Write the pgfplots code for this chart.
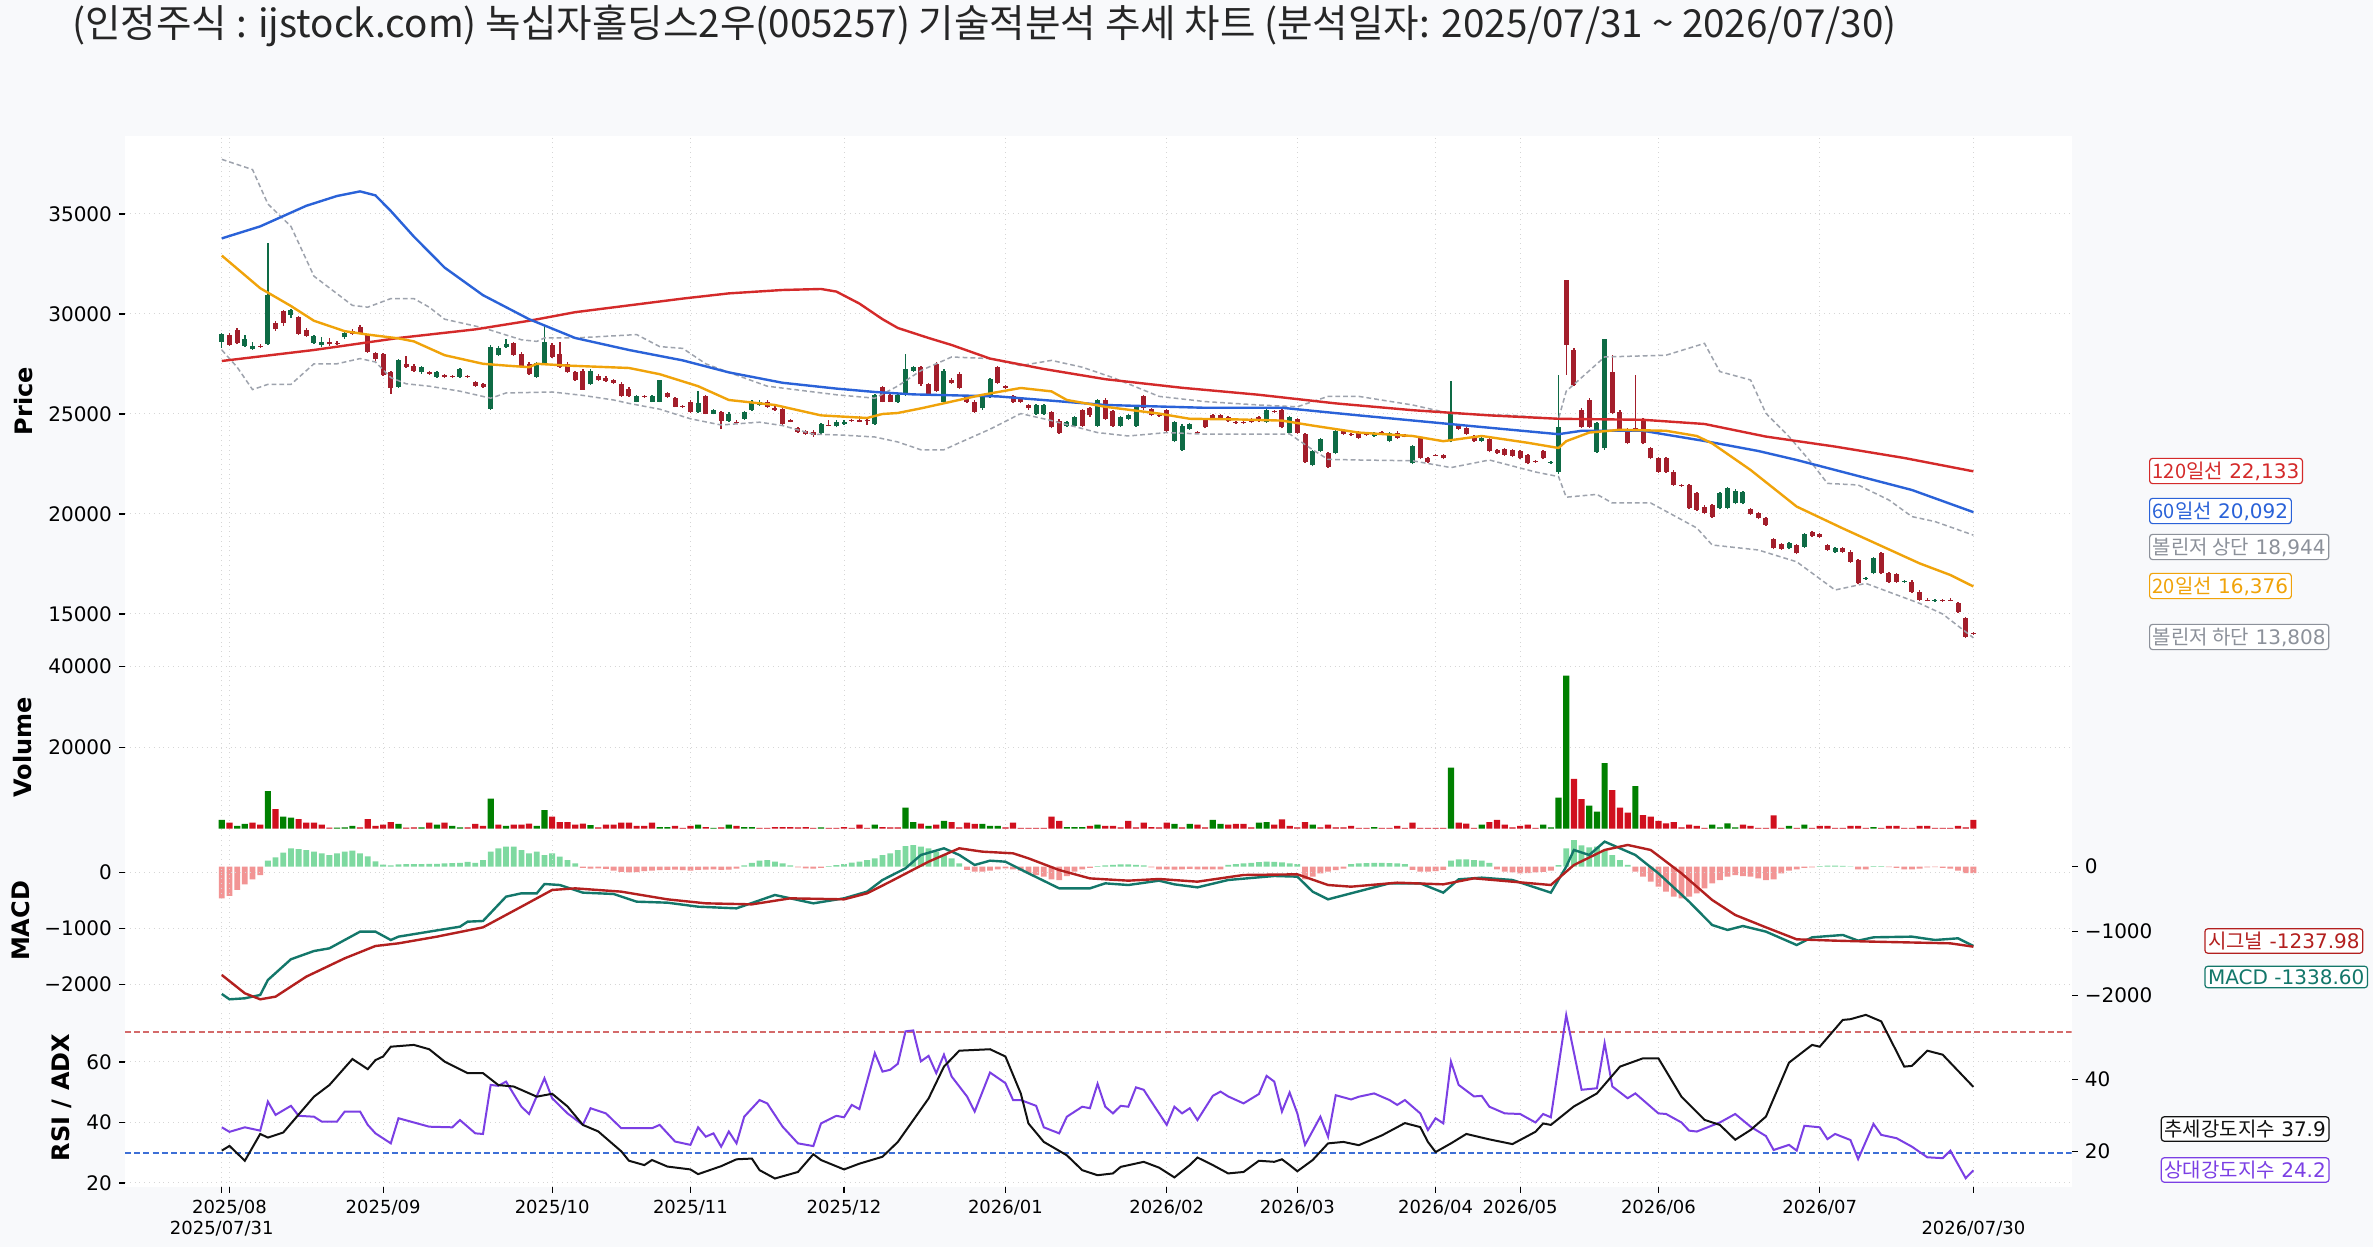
\documentclass[border=0pt]{standalone}
\usepackage{fontspec}
\setmainfont{DejaVu Sans}
\newfontfamily\kr{Noto Sans CJK KR}
\usepackage{pgfplots}
\usepackage{pgfplotstable}
\pgfplotsset{compat=1.18}

\definecolor{bgc}{HTML}{F8F9FB}
\definecolor{cup}{HTML}{0E6B45}
\definecolor{cdn}{HTML}{A31E2B}
\definecolor{vup}{HTML}{008000}
\definecolor{vdn}{HTML}{D0101E}
\definecolor{ma20}{HTML}{F0A30A}
\definecolor{ma60}{HTML}{2A62D8}
\definecolor{ma120}{HTML}{D42A2A}
\definecolor{bbc}{HTML}{9EA3AD}
\definecolor{bbt}{HTML}{8C919A}
\definecolor{macdc}{HTML}{13776A}
\definecolor{sigc}{HTML}{B3201F}
\definecolor{hup}{HTML}{7ED9A0}
\definecolor{hdn}{HTML}{F29494}
\definecolor{rsic}{HTML}{7B3FE4}
\definecolor{adxc}{HTML}{111111}
\definecolor{gridc}{HTML}{D6D6D6}
\definecolor{l70}{HTML}{D46A6A}
\definecolor{l30}{HTML}{3D6FD6}

\pgfplotstableread{
i o h l c v g
0 28620 29050 28300 29000 2150 1
1 28950 29050 28400 28450 1490 0
2 29200 29300 28480 28530 670 1
3 28400 28950 28350 28750 1160 1
4 28230 28600 28200 28420 1490 0
5 28400 28500 28300 28350 1000 0
6 28500 33570 28450 30950 9300 1
7 29570 29650 29150 29230 4850 0
8 30150 30200 29400 29570 2960 1
9 29970 30250 29800 30200 2710 1
10 29830 29900 28950 29000 2380 0
11 29200 29300 28850 28900 1490 0
12 28570 28950 28500 28900 1490 0
13 28450 28850 28350 28600 1000 0
14 28600 28800 28400 28480 250 0
15 28550 28650 28450 28500 250 1
16 28830 29100 28750 29030 300 1
17 29170 29250 28950 29000 670 1
18 29370 29450 28980 29030 300 0
19 28950 29000 28050 28120 2380 0
20 28030 28100 27650 27730 670 0
21 28000 28050 26900 26950 1000 0
22 27090 27150 26000 26290 1650 0
23 26370 27750 26300 27700 1160 1
24 27500 27900 27300 27370 250 0
25 27420 27500 27100 27160 300 0
26 27080 27400 27000 27340 300 1
27 27080 27150 26950 27000 1490 0
28 26860 27150 26800 27080 1000 1
29 26940 27000 26800 26860 1490 0
30 26900 26950 26800 26860 670 1
31 26860 27300 26800 27250 300 1
32 26900 26950 26800 26850 300 0
33 26600 26650 26350 26390 1160 0
34 26480 26550 26300 26340 670 0
35 25270 28450 25200 28370 7410 1
36 27940 28400 27900 28320 1000 0
37 28330 28750 28300 28500 670 1
38 28540 28600 27900 27940 1000 0
39 28020 28100 27300 27340 1000 0
40 27510 27600 26950 26990 1240 0
41 26860 27600 26800 27540 670 1
42 27540 29400 27500 28620 4600 1
43 28450 28550 27800 27850 2960 0
44 28020 28620 27300 27340 1650 0
45 27510 27600 27050 27080 1650 0
46 27080 27150 26650 26680 1000 0
47 27170 27250 26200 26220 1240 0
48 26480 27250 26450 27170 910 1
49 26910 27000 26650 26680 300 0
50 26820 26900 26600 26650 1000 0
51 26680 26750 26500 26560 1000 0
52 26510 26600 25850 25880 1490 0
53 26270 26350 25850 25880 1490 0
54 25620 25950 25580 25880 670 0
55 25900 25950 25800 25850 670 0
56 25620 25950 25580 25880 1490 0
57 25620 26720 25580 26680 400 1
58 26030 26100 25800 25860 400 1
59 25790 25850 25330 25360 670 0
60 25400 25450 25300 25360 200 0
61 25620 25700 25050 25100 670 0
62 25100 26140 25050 25530 1000 1
63 25880 25950 24980 25020 400 0
64 25020 25250 24980 25190 200 1
65 25100 25150 24240 24670 300 0
66 24670 25100 24620 25020 1000 1
67 24620 24700 24550 24580 670 0
68 24760 25150 24700 25100 400 1
69 25190 25700 25150 25620 400 1
70 25450 25700 25400 25620 200 0
71 25620 25700 25300 25360 200 0
72 25310 25380 25150 25190 400 0
73 25240 25300 24450 24500 400 0
74 24700 24760 24580 24620 400 0
75 24280 24350 24050 24110 300 0
76 24160 24220 23950 23990 400 0
77 24110 24180 23850 23940 200 0
78 24070 24550 24000 24500 300 1
79 24450 24700 24380 24400 200 0
80 24380 24700 24330 24620 200 0
81 24500 24700 24450 24620 400 0
82 24700 24750 24600 24650 200 0
83 24720 24900 24580 24620 1000 0
84 24680 24750 24450 24630 200 0
85 24500 26000 24450 25960 1000 1
86 26340 26400 25580 25620 400 0
87 25960 26050 25580 25620 300 0
88 25620 26000 25550 25960 300 0
89 25960 28020 25900 27250 5180 1
90 27160 27400 27100 27340 1650 1
91 27340 27400 26400 26480 1240 0
92 26480 26550 25900 25960 670 1
93 27510 27600 26100 26140 1000 0
94 25620 27250 25550 27170 1900 1
95 26700 26800 26500 26560 1650 0
96 27000 27100 26250 26310 300 0
97 25880 25950 25550 25620 1490 0
98 25620 25700 25050 25100 1160 0
99 25280 25950 25200 25880 1160 1
100 25880 26800 25800 26740 670 1
101 27340 27400 26500 26560 670 1
102 26390 26450 26250 26310 300 0
103 25880 25950 25550 25620 1490 0
104 25790 25850 25550 25620 200 0
105 25450 25500 25200 25280 200 0
106 25020 25500 24950 25450 200 0
107 25020 25500 24950 25450 200 0
108 25100 25150 24280 24330 2960 0
109 24670 24750 24000 24070 1900 0
110 24420 24650 24350 24620 400 1
111 24420 24900 24350 24840 400 1
112 25190 25250 24350 24420 400 1
113 25280 25350 24850 24930 670 0
114 24420 25750 24350 25700 1000 1
115 25700 25780 24700 24760 670 0
116 25140 25200 24350 24420 670 0
117 24420 24900 24350 24840 300 0
118 24760 25000 24700 24930 1900 0
119 24420 25400 24350 25360 300 0
120 25880 25950 25200 25280 1490 0
121 25240 25300 24880 24930 400 0
122 24950 25000 24850 24900 300 0
123 25190 25250 24100 24160 1490 0
124 23640 24650 23580 24590 1160 1
125 23210 24480 23150 24420 300 0
126 24240 24550 24200 24500 1160 1
127 24100 24150 24000 24050 1000 0
128 24760 24820 24280 24330 300 0
129 24930 25000 24700 24760 2150 1
130 24930 25000 24700 24760 1160 1
131 24840 24900 24620 24670 1000 0
132 24600 24650 24500 24560 1160 0
133 24600 24650 24500 24560 1160 0
134 24760 24800 24550 24590 300 0
135 24840 24900 24620 24670 1490 1
136 24590 25250 24550 25190 1650 1
137 25130 25200 25050 25090 1000 0
138 25190 25250 24280 24330 2300 0
139 24070 24900 24000 24840 670 0
140 24760 24820 24020 24070 300 0
141 23990 24050 22550 22610 1650 0
142 22440 23200 22380 23130 1000 1
143 23130 23800 23080 23730 300 0
144 23040 23100 22300 22350 1000 0
145 23040 24220 22980 24160 300 0
146 24160 24220 23940 23990 300 0
147 24000 24050 23900 23960 670 0
148 24070 24130 23760 23810 200 0
149 24000 24050 23900 23960 200 0
150 23900 24120 23850 24070 400 1
151 24100 24150 24000 24050 200 0
152 23640 24120 23580 24070 200 0
153 24070 24130 23760 23810 670 0
154 23920 23980 23830 23880 200 0
155 22530 23450 22480 23390 1490 0
156 23810 23870 22730 22780 200 0
157 22780 22850 22560 22610 200 0
158 22970 23020 22880 22930 200 0
159 22950 23000 22730 22780 200 0
160 23640 26650 23580 25100 15060 1
161 24420 24480 24190 24240 1490 0
162 24280 24340 23940 23990 1240 0
163 23900 23960 23590 23640 200 0
164 23640 23870 23590 23810 1000 1
165 23760 23820 23080 23130 1650 0
166 23210 23270 22990 23040 2150 0
167 23250 23310 22900 22950 1000 0
168 23180 23240 22850 22900 300 0
169 23130 23190 22730 22780 670 0
170 22950 23010 22480 22530 1000 0
171 22650 22700 22560 22610 200 0
172 23130 23190 22730 22780 1000 1
173 22560 22650 22500 22600 300 1
174 22120 26950 22000 24370 7660 1
175 31700 31720 26950 28450 37780 1
176 28200 28300 26400 26450 12270 0
177 25200 25300 24320 24370 7330 0
178 25700 25800 24320 24370 5680 1
179 23120 24600 23050 24530 4200 1
180 23280 28730 23200 28730 16170 1
181 27120 27950 24980 25030 9550 0
182 25120 25200 24150 24200 5180 0
183 24200 24280 23480 23530 3950 0
184 24300 26950 24120 24200 10540 1
185 24700 24780 23480 23530 3370 0
186 23280 23350 22730 22780 2960 0
187 22780 22850 22070 22120 1900 0
188 22780 22850 22070 22120 1320 0
189 22120 22200 21400 21450 1650 0
190 21450 21500 21350 21400 300 0
191 21450 21500 20230 20280 1000 0
192 21030 21100 20150 20200 670 0
193 20370 20450 19980 20030 200 0
194 20450 20500 19820 19870 1000 1
195 20280 21100 20230 21030 300 1
196 20280 21350 20230 21280 1320 1
197 20530 21250 20480 21170 300 1
198 20530 21150 20480 21100 1000 0
199 20230 20300 19950 20000 670 0
200 20030 20100 19730 19780 200 0
201 19780 19850 19400 19450 200 0
202 18730 18800 18230 18280 3290 0
203 18500 18570 18200 18250 200 0
204 18280 18600 18230 18530 670 1
205 18450 18520 17980 18030 200 0
206 18370 19070 18320 19000 1000 1
207 19100 19170 18850 18900 200 0
208 19000 19070 18780 18830 670 0
209 18450 18520 18150 18200 670 0
210 18120 18350 18070 18280 200 0
211 18280 18350 18070 18120 200 0
212 18120 18190 17560 17610 670 0
213 17700 17770 16480 16530 670 0
214 16750 16850 16700 16800 200 0
215 17030 17850 16980 17780 400 1
216 18030 18100 16980 17030 200 0
217 17030 17100 16570 16620 670 0
218 17000 17070 16570 16620 670 0
219 16600 16690 16550 16640 200 0
220 16620 16690 16070 16120 200 0
221 16120 16190 15650 15700 670 0
222 15720 15790 15630 15680 670 0
223 15660 15750 15610 15700 200 0
224 15690 15760 15600 15650 200 0
225 15720 15790 15630 15680 200 0
226 15530 15600 15070 15120 670 0
227 14780 14850 13810 13860 300 0
228 14050 14120 13950 14000 2150 0
}\candles

\pgfplotstableread{
i h
0 -490
1 -454
2 -361
3 -273
4 -196
5 -129
6 93
7 145
8 217
9 284
10 274
11 258
12 233
13 207
14 181
15 207
16 233
17 248
18 207
19 160
20 83
21 31
22 20
23 35
24 40
25 40
26 40
27 45
28 45
29 50
30 55
31 60
32 75
33 60
34 100
35 233
36 284
37 310
38 310
39 258
40 207
41 233
42 181
43 207
44 155
45 103
46 52
47 -20
48 -30
49 -25
50 -35
51 -60
52 -80
53 -90
54 -85
55 -70
56 -60
57 -55
58 -50
59 -45
60 -55
61 -60
62 -50
63 -45
64 -40
65 -50
66 -45
67 -30
68 20
69 60
70 95
71 100
72 80
73 50
74 20
75 -10
76 -25
77 -30
78 -20
79 10
80 26
81 41
82 62
83 78
84 103
85 129
86 181
87 207
88 258
89 320
90 336
91 310
92 284
93 233
94 181
95 129
96 52
97 -50
98 -77
99 -77
100 -60
101 -40
102 -26
103 -41
104 -62
105 -103
106 -129
107 -155
108 -196
109 -207
110 -145
111 -77
112 -41
113 -20
114 10
115 20
116 30
117 36
118 36
119 30
120 20
121 -10
122 -40
123 -40
124 -45
125 -40
126 -35
127 -41
128 -41
129 -41
130 -41
131 30
132 40
133 50
134 60
135 70
136 78
137 75
138 65
139 50
140 40
141 -196
142 -155
143 -103
144 -77
145 -52
146 -30
147 40
148 50
149 55
150 60
151 60
152 55
153 50
154 40
155 -50
156 -77
157 -77
158 -70
159 -50
160 93
161 113
162 113
163 100
164 95
165 60
166 -40
167 -77
168 -90
169 -103
170 -100
171 -90
172 -80
173 -60
174 26
175 284
176 413
177 330
178 300
179 310
180 250
181 180
182 100
183 30
184 -77
185 -155
186 -232
187 -310
188 -388
189 -465
190 -491
191 -465
192 -413
193 -336
194 -258
195 -207
196 -155
197 -129
198 -145
199 -155
200 -181
201 -207
202 -196
203 -103
204 -60
205 -40
206 -20
207 -10
208 10
209 15
210 15
211 12
212 5
213 -40
214 -40
215 10
216 10
217 -5
218 -20
219 -40
220 -40
221 -30
222 -10
223 -5
224 -20
225 -30
226 -60
227 -100
228 -100
}\hist

\pgfplotsset{
  base/.style={
    scale only axis, width=973.35pt, xmin=-12.6, xmax=240.8,
    anchor=south west,
    axis line style={draw=none},
    scaled y ticks=false, scaled x ticks=false,
    tick align=outside, major tick length=3pt,
    tick style={black, line width=0.6pt},
    yticklabel style={font=\fontsize{10}{12}\selectfont},
    xticklabel style={font=\fontsize{9}{11}\selectfont},
    major grid style={gridc, dotted, line width=0.5pt},
    xtick={0,1,21,43,61,81,102,123,140,158,169,187,208,228},
  },
  leftax/.style={base, xmajorgrids, ymajorgrids, ytick pos=left},
  upper/.style={leftax, xmajorticks=false, xticklabels={}},
  rightax/.style={base, hide x axis, ytick pos=right, yticklabel pos=right},
}

\begin{document}
\begin{tikzpicture}
\useasboundingbox (0,0) rectangle (1186.5pt,623.5pt);
\fill[bgc] (0,0) rectangle (1186.5pt,623.5pt);
\fill[white] (62.5pt,30pt) rectangle (1035.85pt,555.5pt);

% ---------------- Price ----------------
\begin{axis}[upper, at={(62.5pt,297.5pt)}, height=258pt, ymin=13100, ymax=38900,
  ytick={15000,20000,25000,30000,35000}, yticklabels={15000,20000,25000,30000,35000}]
% wicks
\addplot[draw=none, mark=none, forget plot, error bars/.cd, y dir=plus, y explicit, error mark=none,
  error bar style={draw=cup, line width=0.7pt, solid}]
  table[x=i, y expr={\thisrow{c}>=\thisrow{o} ? \thisrow{l} : nan}, y error plus expr={\thisrow{h}-\thisrow{l}}] {\candles};
\addplot[draw=none, mark=none, forget plot, error bars/.cd, y dir=plus, y explicit, error mark=none,
  error bar style={draw=cdn, line width=0.7pt, solid}]
  table[x=i, y expr={\thisrow{c}<\thisrow{o} ? \thisrow{l} : nan}, y error plus expr={\thisrow{h}-\thisrow{l}}] {\candles};
% bodies
\addplot[draw=none, mark=none, forget plot, error bars/.cd, y dir=plus, y explicit, error mark=none,
  error bar style={draw=cup, line width=2.5pt, solid}]
  table[x=i, y expr={\thisrow{c}>=\thisrow{o} ? \thisrow{o} : nan}, y error plus expr={max(\thisrow{c}-\thisrow{o},40)}] {\candles};
\addplot[draw=none, mark=none, forget plot, error bars/.cd, y dir=plus, y explicit, error mark=none,
  error bar style={draw=cdn, line width=2.5pt, solid}]
  table[x=i, y expr={\thisrow{c}<\thisrow{o} ? \thisrow{c} : nan}, y error plus expr={max(\thisrow{o}-\thisrow{c},40)}] {\candles};
% Bollinger
\addplot[bbc, line width=0.75pt, dash pattern=on 2.4pt off 1.5pt] coordinates {(0,37730)(4,37220)(6,35500)(9,34380)(12,31890)(17,30430)(19,30340)(22,30770)(25,30770)(27,30340)(29,29740)(34,29310)(39,28710)(41,28630)(42,28800)(46,28800)(54,28970)(57,28370)(60,28280)(63,27510)(66,27080)(71,26390)(80,25960)(85,25790)(88,26400)(91,27170)(95,27850)(100,27770)(104,27420)(108,27680)(112,27340)(116,26820)(122,25880)(128,25620)(135,25450)(140,25360)(144,25880)(148,25880)(155,25450)(160,25020)(168,24930)(174,24760)(175,26140)(177,26820)(180,27850)(188,27940)(193,28530)(195,27120)(199,26700)(201,25030)(204,23870)(207,22530)(209,21530)(213,21450)(217,20700)(220,19870)(223,19620)(228,18944)};
\addplot[bbc, line width=0.75pt, dash pattern=on 2.4pt off 1.5pt] coordinates {(0,28200)(2,27340)(4,26220)(6,26480)(9,26480)(12,27510)(15,27510)(18,27770)(20,27600)(22,26820)(24,26510)(27,26390)(31,26140)(35,25790)(37,26050)(43,26100)(47,25930)(51,25700)(53,25530)(57,25240)(61,24760)(65,24450)(70,24590)(73,24420)(77,23990)(81,23940)(85,23850)(88,23600)(91,23210)(94,23210)(96,23560)(100,24240)(104,25020)(108,24670)(114,24070)(118,23900)(123,24070)(128,23990)(135,23990)(139,24000)(142,23210)(144,22730)(148,22700)(155,22660)(160,22320)(165,22700)(171,22100)(174,21870)(175,20840)(179,20980)(181,20550)(186,20550)(192,19300)(194,18450)(200,18200)(205,17610)(210,16200)(214,16530)(221,15530)(224,15000)(228,13808)};
% MA120
\addplot[ma120, line width=1.2pt] coordinates {(0,27650)(12,28200)(23,28800)(33,29230)(40,29660)(46,30090)(53,30430)(60,30770)(66,31030)(73,31200)(78,31250)(80,31120)(83,30520)(86,29740)(88,29300)(92,28800)(95,28450)(100,27770)(107,27250)(115,26740)(125,26310)(135,25960)(145,25530)(155,25190)(165,24930)(174,24760)(185,24710)(193,24500)(201,23870)(210,23370)(219,22800)(228,22133)};
% MA60
\addplot[ma60, line width=1.2pt] coordinates {(0,33780)(5,34380)(11,35410)(15,35900)(18,36130)(20,35930)(22,35150)(25,33870)(29,32320)(34,30940)(40,29740)(46,28800)(53,28200)(60,27680)(66,27080)(73,26560)(80,26270)(85,26100)(90,25980)(101,25880)(115,25450)(128,25310)(138,25310)(148,24930)(162,24420)(174,23990)(177,24160)(185,24160)(193,23650)(200,23150)(205,22700)(212,22000)(220,21200)(228,20092)};
% MA20
\addplot[ma20, line width=1.2pt] coordinates {(0,32920)(5,31290)(9,30400)(12,29660)(16,29140)(19,28970)(23,28780)(25,28630)(29,27940)(34,27510)(37,27420)(40,27340)(41,27510)(45,27420)(53,27300)(57,26990)(62,26390)(66,25700)(72,25450)(78,24930)(84,24800)(86,25000)(88,25050)(91,25280)(95,25620)(99,25960)(104,26300)(108,26130)(110,25700)(115,25360)(122,25020)(126,24760)(132,24730)(138,24670)(142,24420)(148,24070)(155,23900)(159,23640)(164,23900)(170,23560)(174,23300)(175,23640)(178,24070)(182,24210)(188,24160)(192,23900)(194,23530)(199,22200)(205,20370)(211,19280)(221,17530)(225,16950)(228,16376)};
\end{axis}

% ---------------- Volume ----------------
\begin{axis}[upper, at={(62.5pt,208.5pt)}, height=87pt, ymin=-321, ymax=42642,
  ytick={20000,40000}, yticklabels={20000,40000}]
\addplot[ybar, bar width=3.1pt, bar shift=0pt, fill=vup, draw=none] table[x=i, y expr={\thisrow{g}>0 ? \thisrow{v} : nan}] {\candles};
\addplot[ybar, bar width=3.1pt, bar shift=0pt, fill=vdn, draw=none] table[x=i, y expr={\thisrow{g}<1 ? \thisrow{v} : nan}] {\candles};
\end{axis}

% ---------------- MACD ----------------
\begin{axis}[rightax, at={(62.5pt,121.5pt)}, height=85pt, ymin=-2129, ymax=507,
  ytick={-2000,-1000,0}, yticklabels={−2000,−1000,0}]
\addplot[ybar, bar width=2.9pt, bar shift=0pt, fill=hup, draw=none] table[x=i, y expr={\thisrow{h}>=0 ? \thisrow{h} : nan}] {\hist};
\addplot[ybar, bar width=2.9pt, bar shift=0pt, fill=hdn, draw=none] table[x=i, y expr={\thisrow{h}<0 ? \thisrow{h} : nan}] {\hist};
\end{axis}
\begin{axis}[upper, at={(62.5pt,121.5pt)}, height=85pt, ymin=-2357, ymax=695,
  ytick={-2000,-1000,0}, yticklabels={−2000,−1000,0}]
\addplot[macdc, line width=1.2pt] coordinates {(0,-2177)(1,-2273)(3,-2255)(5,-2195)(6,-1926)(9,-1554)(12,-1406)(14,-1358)(18,-1058)(20,-1058)(22,-1208)(23,-1148)(27,-1058)(31,-969)(32,-879)(34,-867)(37,-430)(39,-370)(41,-370)(42,-203)(44,-221)(47,-358)(51,-382)(54,-520)(58,-538)(62,-610)(67,-640)(72,-400)(77,-550)(81,-460)(84,-340)(86,-131)(89,79)(91,318)(94,438)(96,318)(98,139)(100,216)(102,198)(105,-11)(109,-281)(113,-281)(115,-191)(118,-221)(122,-143)(124,-209)(127,-263)(131,-131)(137,-59)(140,-71)(142,-341)(144,-478)(147,-370)(152,-191)(156,-191)(159,-358)(161,-119)(164,-89)(168,-131)(173,-358)(175,108)(176,408)(178,318)(180,558)(184,318)(187,-11)(191,-520)(194,-939)(196,-1028)(198,-957)(201,-1058)(205,-1298)(207,-1160)(211,-1118)(213,-1220)(215,-1160)(220,-1148)(223,-1208)(226,-1178)(228,-1316)};
\addplot[sigc, line width=1.2pt] coordinates {(0,-1836)(3,-2165)(5,-2273)(7,-2225)(11,-1866)(16,-1537)(20,-1316)(23,-1268)(28,-1148)(34,-981)(39,-610)(43,-310)(46,-281)(52,-340)(58,-478)(63,-550)(69,-568)(74,-460)(81,-478)(84,-370)(87,-161)(92,198)(96,438)(99,378)(103,348)(105,258)(109,48)(113,-102)(118,-143)(122,-113)(127,-161)(133,-41)(140,-29)(144,-221)(147,-251)(153,-179)(159,-209)(163,-101)(168,-161)(173,-221)(176,138)(180,408)(183,498)(186,408)(190,-11)(194,-490)(197,-759)(201,-981)(205,-1196)(210,-1220)(215,-1238)(225,-1268)(228,-1328)};
\end{axis}

% ---------------- RSI / ADX ----------------
\begin{axis}[leftax, at={(62.5pt,30pt)}, height=88.5pt, ymin=18.68, ymax=77.16,
  ytick={20,40,60}, yticklabels={20,40,60},
  xtick={1,21,43,61,81,102,123,140,158,169,187,208},
  xticklabels={2025/08,2025/09,2025/10,2025/11,2025/12,2026/01,2026/02,2026/03,2026/04,2026/05,2026/06,2026/07},
  extra x ticks={0,228}, extra x tick labels={2025/07/31,2026/07/30},
  extra x tick style={tick label style={yshift=-10.5pt}}, xtick pos=bottom]
\addplot[l70, line width=0.9pt, dash pattern=on 3pt off 1.6pt] coordinates {(-12.6,70)(240.8,70)};
\addplot[l30, line width=0.9pt, dash pattern=on 3pt off 1.6pt] coordinates {(-12.6,30)(240.8,30)};
\addplot[rsic, line width=1pt] coordinates {(0,38.4)(1,36.9)(3,38.4)(5,37.3)(6,46.9)(7,42.5)(9,45.5)(10,42.2)(12,41.9)(13,40.3)(15,40.3)(16,43.6)(18,43.6)(19,39.2)(20,36.4)(22,33.1)(23,41.4)(25,40.0)(27,38.6)(30,38.4)(31,40.8)(33,36.4)(34,36.2)(35,52.4)(36,52.1)(37,53.5)(39,45.2)(40,42.8)(42,54.6)(43,48.0)(45,43.0)(47,39.2)(48,44.7)(50,43.0)(52,38.1)(56,38.1)(57,39.2)(59,33.7)(61,32.6)(62,38.4)(63,35.3)(64,36.4)(65,32.0)(66,37.0)(67,33.1)(68,41.9)(70,47.4)(71,46.3)(73,38.6)(75,33.1)(77,32.2)(78,39.7)(80,42.2)(81,41.7)(82,45.8)(83,44.4)(85,62.9)(86,56.8)(87,57.4)(88,59.4)(89,70.1)(90,70.4)(91,60.2)(92,62.0)(93,56.3)(94,62.4)(95,55.2)(97,48.6)(98,43.6)(100,56.5)(102,53.0)(103,47.4)(104,47.4)(106,45.5)(107,38.4)(109,36.4)(110,41.9)(112,45.2)(113,44.7)(114,52.8)(115,45.2)(116,43.0)(117,45.5)(118,45.2)(119,51.6)(120,50.8)(121,46.9)(123,39.2)(124,45.2)(125,43.0)(126,44.7)(127,40.8)(129,48.8)(130,50.2)(131,48.6)(133,46.3)(135,49.4)(136,55.4)(137,53.5)(138,43.6)(139,49.9)(140,43.0)(141,32.6)(143,41.9)(144,35.3)(145,49.0)(147,47.6)(148,48.5)(150,49.6)(152,47.4)(153,45.8)(154,47.4)(156,43.0)(157,37.5)(158,41.4)(159,39.7)(160,60.1)(161,52.4)(163,48.6)(164,48.8)(165,45.2)(167,43.0)(169,42.8)(171,40.0)(172,42.8)(173,41.7)(175,75.5)(177,50.8)(179,51.3)(180,66.2)(181,51.9)(183,48.0)(184,49.6)(186,45.2)(187,43.0)(188,42.8)(190,40.0)(191,37.3)(192,37.0)(195,40.0)(197,42.8)(199,38.6)(201,35.5)(202,30.9)(204,32.6)(205,30.7)(206,38.9)(208,38.4)(209,34.5)(210,36.2)(212,34.2)(213,27.9)(215,39.5)(216,35.9)(218,34.8)(220,32.0)(222,28.5)(224,28.2)(225,30.7)(227,21.6)(228,24.2)};
\end{axis}
\begin{axis}[rightax, at={(62.5pt,30pt)}, height=88.5pt, ymin=10.25, ymax=59.14,
  ytick={20,40}, yticklabels={20,40}]
\addplot[adxc, line width=1pt] coordinates {(0,20.3)(1,21.6)(3,17.5)(5,24.9)(6,23.9)(8,25.3)(12,35.2)(14,38.4)(17,45.6)(19,42.8)(20,45.3)(21,46.3)(22,49.0)(25,49.5)(27,48.3)(29,44.9)(32,41.7)(34,41.7)(36,38.4)(38,38.0)(41,35.2)(43,36.0)(45,32.5)(47,27.4)(49,25.6)(52,20.1)(53,17.5)(55,16.3)(56,17.7)(58,15.9)(61,15.1)(62,13.8)(65,16.0)(67,17.9)(69,18.1)(70,14.9)(72,12.6)(75,14.4)(77,19.3)(78,17.7)(81,15.1)(83,16.7)(86,18.6)(88,22.7)(90,28.7)(92,34.7)(94,43.5)(96,47.9)(100,48.3)(102,46.3)(104,36.1)(105,27.8)(107,22.7)(110,19.0)(112,14.9)(114,13.5)(116,14.0)(117,15.8)(120,17.2)(122,15.6)(124,12.9)(126,16.3)(127,18.4)(129,16.3)(131,14.0)(133,14.4)(135,17.5)(137,17.2)(138,17.9)(139,16.3)(140,14.6)(142,17.7)(144,22.3)(146,22.7)(148,21.8)(151,24.5)(154,27.9)(156,26.8)(157,22.7)(158,19.9)(160,22.3)(162,24.9)(165,23.4)(168,22.1)(171,25.5)(172,27.8)(173,27.4)(176,32.5)(179,36.1)(182,43.5)(185,45.8)(187,45.8)(190,35.2)(193,28.8)(195,27.4)(197,23.3)(199,26.0)(201,29.7)(204,44.6)(207,49.5)(208,49.0)(211,56.4)(212,56.6)(214,57.8)(216,56.0)(219,43.5)(220,43.7)(222,47.9)(224,46.8)(228,37.9)};
\end{axis}

% ---------------- Texts ----------------
\node[anchor=west, inner sep=0pt, font=\kr\fontsize{19.3}{22}\selectfont, text=black!85] at (36pt,610.5pt)
  {(인정주식 : ijstock.com) 녹십자홀딩스2우(005257) 기술적분석 추세 차트 (분석일자: 2025/07/31 \textasciitilde{} 2026/07/30)};
\node[rotate=90, font=\bfseries\fontsize{12}{14}\selectfont] at (12pt,423pt) {Price};
\node[rotate=90, font=\bfseries\fontsize{12}{14}\selectfont] at (11.25pt,249.75pt) {Volume};
\node[rotate=90, font=\bfseries\fontsize{12}{14}\selectfont] at (10.5pt,163pt) {MACD};
\node[rotate=90, font=\bfseries\fontsize{12}{14}\selectfont] at (31pt,74.75pt) {RSI / ADX};

\tikzset{lbox/.style={anchor=west, draw=#1, text=#1, fill=white, rounded corners=1.5pt, line width=0.6pt, inner sep=1.6pt, font=\fontsize{10}{12}\selectfont}}
\node[lbox=ma120] at (1074.5pt,388pt) {{\kr 120일선} 22,133};
\node[lbox=ma60] at (1074.5pt,368pt) {{\kr 60일선} 20,092};
\node[lbox=bbt] at (1074.5pt,350pt) {{\kr 볼린저 상단} 18,944};
\node[lbox=ma20] at (1074.5pt,330.5pt) {{\kr 20일선} 16,376};
\node[lbox=bbt] at (1074.5pt,305pt) {{\kr 볼린저 하단} 13,808};
\node[lbox=sigc] at (1102.15pt,153pt) {{\kr 시그널} -1237.98};
\node[lbox=macdc] at (1102.15pt,135pt) {MACD -1338.60};
\node[lbox=adxc] at (1080.35pt,59pt) {{\kr 추세강도지수} 37.9};
\node[lbox=rsic] at (1080.35pt,38.5pt) {{\kr 상대강도지수} 24.2};
\end{tikzpicture}
\end{document}
